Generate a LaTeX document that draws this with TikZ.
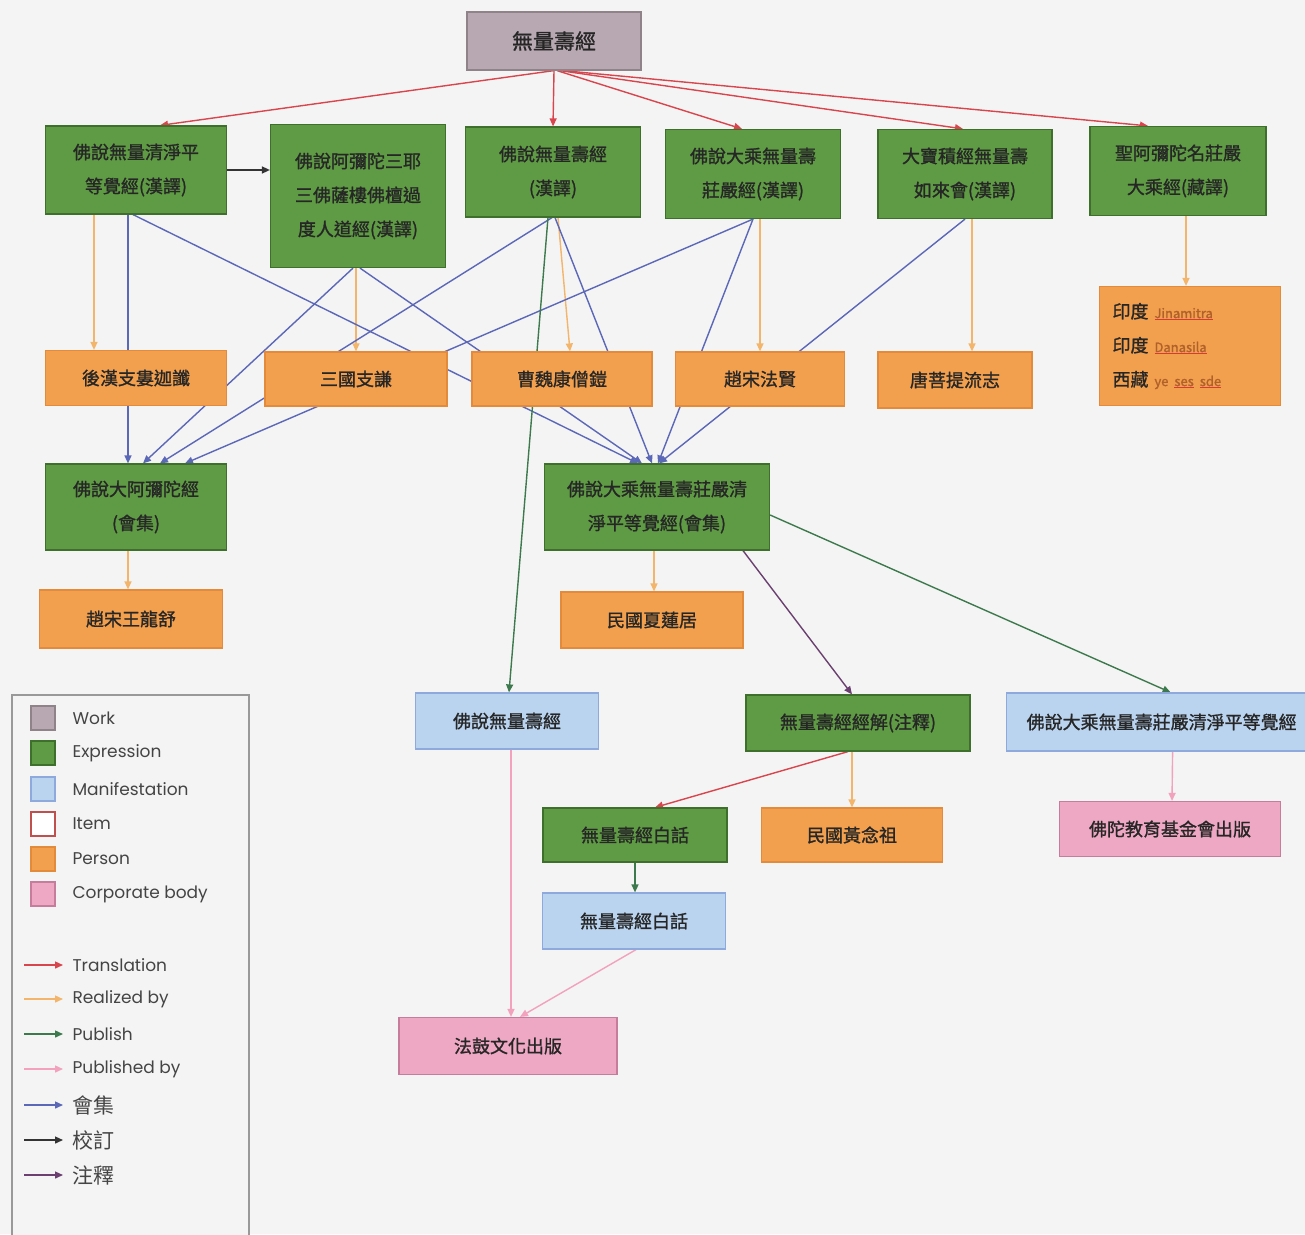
\documentclass[tikz,border=0pt]{standalone}
\usepackage{fontspec}
\setmainfont{Poppins}
\newfontfamily\cjk[FakeBold=1.2]{Noto Sans CJK TC}
\newfontfamily\cjkleg{Noto Sans CJK TC}
\usetikzlibrary{arrows.meta,backgrounds}
\definecolor{pagebg}{HTML}{F4F4F4}
\definecolor{workc}{HTML}{B8A8B2}
\definecolor{workd}{HTML}{8F8389}
\definecolor{exprc}{HTML}{5F9B44}
\definecolor{exprd}{HTML}{3F6F2C}
\definecolor{persc}{HTML}{F2A04E}
\definecolor{persd}{HTML}{E38B3A}
\definecolor{manic}{HTML}{BAD4F0}
\definecolor{manid}{HTML}{8EA9DB}
\definecolor{corpc}{HTML}{EFA8C3}
\definecolor{corpd}{HTML}{C67D9B}
\definecolor{itemd}{HTML}{C0504D}
\definecolor{txtc}{HTML}{262626}
\definecolor{legtc}{HTML}{444444}
\definecolor{latinc}{HTML}{B0602A}
\definecolor{spellred}{HTML}{D83A3A}
\definecolor{transc}{HTML}{D9454D}
\definecolor{realzc}{HTML}{F3B56B}
\definecolor{publc}{HTML}{3C7A4E}
\definecolor{pubbyc}{HTML}{F2A2BC}
\definecolor{huijic}{HTML}{5B67B7}
\definecolor{jiaodc}{HTML}{333333}
\definecolor{zhushc}{HTML}{6B3F6F}
\newcommand{\spellword}[1]{{\color{spellred}\underline{\textcolor{latinc}{\fontsize{13}{13}\selectfont #1}}}}
\newcommand{\legcjk}[1]{{\cjkleg\fontsize{21}{24}\selectfont #1}}

\begin{document}
\begin{tikzpicture}[x=1pt,y=-1pt,>={Triangle[length=8pt,width=7pt]},
    ent/.style={draw,line width=1.2pt,inner sep=2pt,align=center,text=txtc,
      font=\cjk\fontsize{18}{34}\selectfont},
    work/.style={ent,fill=workc,draw=workd,font=\cjk\fontsize{21}{24}\selectfont},
    expr/.style={ent,fill=exprc,draw=exprd},
    pers/.style={ent,fill=persc,draw=persd},
    mani/.style={ent,fill=manic,draw=manid},
    corp/.style={ent,fill=corpc,draw=corpd},
    lnk/.style={->,line width=1.4pt},
    trans/.style={lnk,draw=transc},
    realz/.style={lnk,draw=realzc},
    publ/.style={lnk,draw=publc},
    pubby/.style={lnk,draw=pubbyc},
    huiji/.style={lnk,draw=huijic},
    jiaod/.style={lnk,draw=jiaodc},
    zhush/.style={lnk,draw=zhushc},
    swatch/.style={draw,line width=1.2pt,minimum size=24pt,inner sep=0pt},
    legtxt/.style={anchor=west,text=legtc,font=\fontsize{17}{20}\selectfont}]
  \clip (0,0) rectangle (1305,1234);
  \node[work,minimum width=174pt,minimum height=58pt] (wk) at (554,41) {無量壽經};
  % expressions
  \node[expr,minimum width=181pt,minimum height=88pt] (e1) at (136,170) {佛說無量清淨平\\等覺經(漢譯)};
  \node[expr,minimum width=175pt,minimum height=143pt] (e2) at (358,196) {佛說阿彌陀三耶\\三佛薩樓佛檀過\\度人道經(漢譯)};
  \node[expr,minimum width=175pt,minimum height=90pt] (e3) at (553,172) {佛說無量壽經\\(漢譯)};
  \node[expr,minimum width=175pt,minimum height=89pt] (e4) at (753,174) {佛說大乘無量壽\\莊嚴經(漢譯)};
  \node[expr,minimum width=174pt,minimum height=89pt] (e5) at (965,174) {大寶積經無量壽\\如來會(漢譯)};
  \node[expr,minimum width=176pt,minimum height=89pt] (e6) at (1178,171) {聖阿彌陀名莊嚴\\大乘經(藏譯)};
  \node[expr,minimum width=181pt,minimum height=86pt] (e7) at (136,507) {佛說大阿彌陀經\\(會集)};
  \node[expr,minimum width=225pt,minimum height=86pt] (e8) at (657,507) {佛說大乘無量壽莊嚴清\\淨平等覺經(會集)};
  \node[expr,minimum width=224pt,minimum height=56pt] (e9) at (858,723) {無量壽經經解(注釋)};
  \node[expr,minimum width=184pt,minimum height=54pt] (e10) at (635,835) {無量壽經白話};
  % persons
  \node[pers,minimum width=181pt,minimum height=55pt] (p1) at (136,378) {後漢支婁迦讖};
  \node[pers,minimum width=182pt,minimum height=54pt] (p2) at (356,379) {三國支謙};
  \node[pers,minimum width=180pt,minimum height=54pt] (p3) at (562,379) {曹魏康僧鎧};
  \node[pers,minimum width=169pt,minimum height=54pt] (p4) at (760,379) {趙宋法賢};
  \node[pers,minimum width=154pt,minimum height=56pt] (p5) at (955,380) {唐菩提流志};
  \node[pers,minimum width=181pt,minimum height=119pt,align=left,text width=155pt] (p6) at (1190,346)
    {印度 \spellword{Jinamitra}\\印度 \spellword{Danasila}\\西藏 {\fontsize{13}{13}\selectfont\color{latinc}ye} \spellword{ses} \spellword{sde}};
  \node[pers,minimum width=183pt,minimum height=58pt] (p7) at (131,619) {趙宋王龍舒};
  \node[pers,minimum width=182pt,minimum height=56pt] (p8) at (652,620) {民國夏蓮居};
  \node[pers,minimum width=181pt,minimum height=54pt] (p9) at (852,835) {民國黃念祖};
  % manifestations and corporate bodies
  \node[mani,minimum width=183pt,minimum height=56pt] (m1) at (507,721) {佛說無量壽經};
  \node[mani,minimum width=310pt,minimum height=58pt,anchor=west] (m2) at (1006,722) {佛說大乘無量壽莊嚴清淨平等覺經};
  \node[mani,minimum width=183pt,minimum height=56pt] (m3) at (634,921) {無量壽經白話};
  \node[corp,minimum width=221pt,minimum height=55pt] (c1) at (1170,829) {佛陀教育基金會出版};
  \node[corp,minimum width=218pt,minimum height=57pt] (c2) at (508,1046) {法鼓文化出版};

  \begin{scope}[on background layer]
    \fill[pagebg] (0,0) rectangle (1305,1234);
    % translation
    \draw[trans] (wk.south) -- ([xshift=24pt]e1.north);
    \draw[trans] (wk.south) -- (e3.north);
    \foreach \t/\s/\o in {e4/-11/3,e5/-2/6,e6/-30/9}
      {\draw[trans] ([xshift=\o pt]wk.south) -- ([xshift=\s pt]\t.north);}
    \draw[trans] ([xshift=-10pt]e9.south) -- ([xshift=20pt]e10.north);
    % realized by
    \draw[realz] ([xshift=-42pt]e1.south) -- ([xshift=-42pt]p1.north);
    \draw[realz] ([xshift=-2pt]e2.south) -- (p2.north);
    \draw[realz] ([xshift=5pt]e3.south) -- ([xshift=8pt]p3.north);
    \draw[realz] ([xshift=7pt]e4.south) -- (p4.north);
    \draw[realz] ([xshift=7pt]e5.south) -- ([xshift=17pt]p5.north);
    \draw[realz] ([xshift=8pt]e6.south) -- ([xshift=-4pt]p6.north);
    \draw[realz] ([xshift=-8pt]e7.south) -- ([xshift=-3pt]p7.north);
    \draw[realz] ([xshift=-3pt]e8.south) -- ([xshift=2pt]p8.north);
    \draw[realz] ([xshift=-6pt]e9.south) -- (p9.north);
    % hui ji
    \draw[huiji] ([xshift=-8pt]e1.south) -- ([xshift=-8pt]e7.north);
    \draw[huiji] ([xshift=-5pt]e2.south) -- ([xshift=7pt]e7.north);
    \draw[huiji] ([xshift=-1pt]e3.south) -- ([xshift=24pt]e7.north);
    \draw[huiji] (e4.south) -- ([xshift=49pt]e7.north);
    \draw[huiji] ([xshift=-3pt]e1.south) -- ([xshift=-19pt]e8.north);
    \draw[huiji] ([xshift=2pt]e2.south) -- ([xshift=-15pt]e8.north);
    \draw[huiji] ([xshift=2pt]e3.south) -- ([xshift=-5pt]e8.north);
    \draw[huiji] (e4.south) -- ([xshift=1pt]e8.north);
    \draw[huiji] (e5.south) -- ([xshift=2pt]e8.north);
    % publish
    \draw[publ] ([xshift=-5pt]e3.south) -- ([xshift=2pt]m1.north);
    \draw[publ] ([yshift=-8pt]e8.east) -- ([xshift=9pt]m2.north);
    \draw[publ] (e10.south) -- (e10.south |- m3.north);
    % published by
    \draw[pubby] ([xshift=4pt]m1.south) -- ([xshift=3pt]c2.north);
    \draw[pubby] ([xshift=2pt]m3.south) -- ([xshift=12pt]c2.north);
    \draw[pubby] ([xshift=11pt]m2.south) -- ([xshift=2pt]c1.north);
    % jiao ding, zhu shi
    \draw[jiaod] (e1.east) -- (e1.east -| e2.west);
    \draw[zhush] ([xshift=86pt]e8.south) -- ([xshift=-6pt]e9.north);
  \end{scope}

  % legend
  \draw[fill=pagebg,draw=gray!80,line width=1.5pt] (12,695) rectangle (249,1250);
  \foreach \y/\fc/\dc/\lab in {718/workc/workd/Work,753/exprc/exprd/Expression,
      789/manic/manid/Manifestation,824/white/itemd/Item,859/persc/persd/Person,
      894/corpc/corpd/Corporate body}
    {\node[swatch,fill=\fc,draw=\dc] (sw\y) at (43,\y) {};
     \node[legtxt] (lt\y) at (69,\y) {\lab};}
  \foreach \y/\sty/\lab in {965/trans/Translation,999/realz/Realized by,1034/publ/Publish,
      1069/pubby/Published by,1105/huiji/\legcjk{會集},1140/jiaod/\legcjk{校訂},1175/zhush/\legcjk{注釋}}
    {\coordinate (la\y) at (24,\y);
     \coordinate (lb\y) at (63,\y);
     \draw[\sty] (la\y) -- (lb\y);
     \node[legtxt] (lt\y) at (69,\y) {\lab};}
\end{tikzpicture}
\end{document}
